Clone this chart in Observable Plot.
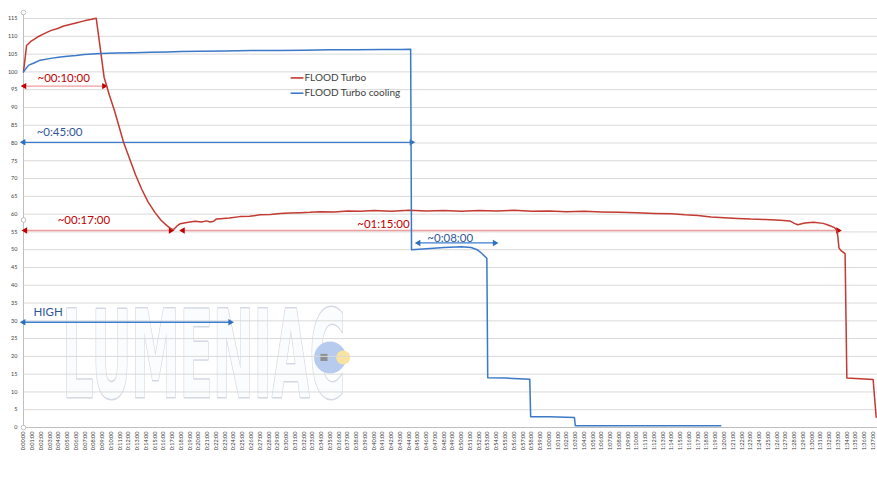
<!DOCTYPE html>
<html><head><meta charset="utf-8">
<script src="https://cdn.jsdelivr.net/npm/d3@7"></script>
<script src="https://cdn.jsdelivr.net/npm/@observablehq/plot@0.6"></script>
<style>body{margin:0;background:#fff;} svg{display:block}</style>
</head><body><div id="chart"></div>
<script>
// ---- data (minutes, value) ----
const redT = [0,0.35,0.8,1.6,2.3,3.1,3.9,4.6,5.3,6.1,6.7,7.2,7.8,8.3,8.8,9.2,9.8,10.4,11.45,12.2,12.8,13.5,14.2,15.0,15.7,16.4,16.95,17.2,17.5,17.9,18.5,19.0,19.6,20.3,20.9,21.3,21.7,22.0,22.5,23.5,24.7,25.8,27.0,28.2,29.3,30.4,31.6,32.7,33.9,35.5,37,38.5,40,42,44,46,48,50,52,54,56,58,60,62,64,66,68,70,72,74,75.5,77,78.5,80,81.5,83,84.7,86.4,87.5,88.0,88.4,89.2,90.2,91.3,92.0,92.6,92.9,93.1,93.3,93.8,94.0,97.0,97.35];
const redV = [100,107.4,108.5,109.8,110.7,111.6,112.2,112.9,113.3,113.8,114.2,114.5,114.8,115.1,106,98.5,93.5,89,80,75,71,67,63.5,60.5,58.3,56.7,55.7,55.8,56.6,57.3,57.6,57.8,58.0,57.8,58.1,57.8,58.0,58.6,58.7,58.9,59.3,59.4,59.8,59.9,60.2,60.3,60.4,60.5,60.7,60.6,60.9,60.8,61.0,60.8,61.1,60.9,61.0,60.8,61.0,60.9,61.1,60.8,60.9,60.7,60.8,60.6,60.5,60.4,60.2,60.1,59.8,59.6,59.2,59.0,58.8,58.6,58.5,58.3,58.1,57.4,57.0,57.5,57.7,57.4,56.8,56.2,55.4,50.5,49.8,48.9,13.9,13.5,2.9];
const blueT = [0,0.3,0.6,1.2,1.9,3.1,4,5.0,6,6.9,8.8,10.5,12.6,14.5,16.4,18,20.2,23,26,29,32,35,38,41,43,44.2,44.3,46,48,50,51.1,51.8,52.3,52.9,53.0,55,57.8,57.9,60,62.9,63.0,79.6];
const blueV = [100,101.0,101.9,102.5,103.3,103.8,104.1,104.4,104.6,104.9,105.2,105.3,105.4,105.5,105.6,105.7,105.8,105.9,106.0,106.0,106.1,106.2,106.2,106.3,106.3,106.4,50.0,50.3,50.6,50.8,50.6,50.0,49.0,47.6,14.0,13.9,13.6,3.0,3.0,2.8,0.5,0.5];

const seriesNames = ["FLOOD Turbo", "FLOOD Turbo cooling"];
const seriesColors = ["#c23a32", "#3b78c8"];

const yTicks = d3.range(0, 116, 5);
const xTicks = d3.range(0, 98, 1);
const xTickLabels = xTicks.map(m => `${Math.floor(m / 60)}:${String(m % 60).padStart(2, "0")}:00`);

// annotations: duration arrows
const arrowT1 = [0.1, 0, 0.2, 18.2, 45.1, 0];
const arrowT2 = [9.2, 44.3, 16.8, 93.0, 53.8, 23.6];
const arrowV  = [96, 80.2, 55.4, 55.4, 51.9, 29.6];
const arrowKind = ["red", "blue", "red", "red", "blue", "blue"];
// annotation labels
const labelText = ["~00:10:00", "~0:45:00", "~00:17:00", "~01:15:00", "~0:08:00", "HIGH"];
const labelT = [1.6, 1.5, 3.9, 38.1, 46.1, 1.15];
const labelV = [98.2, 83, 58.2, 57.2, 53.3, 32.4];
const labelColor = ["#c00000", "#2f5597", "#c00000", "#c00000", "#2f5597", "#2f5597"];
// legend
const legendT = [30.5, 31.96];
const legendV = [98.3, 94.0];

const red = redT.map((t, i) => ({t, v: redV[i]}));
const blue = blueT.map((t, i) => ({t, v: blueV[i]}));
const arrows = arrowT1.map((t1, i) => ({t1, t2: arrowT2[i], v: arrowV[i], kind: arrowKind[i]}));
const heads = arrows.flatMap(a => [{t: a.t1, v: a.v, rot: -90, kind: a.kind}, {t: a.t2, v: a.v, rot: 90, kind: a.kind}]);
const labels = labelText.map((s, i) => ({s, t: labelT[i], v: labelV[i], c: labelColor[i]}));
const legend = seriesNames.map((n, i) => ({n, c: seriesColors[i], v: legendV[i]}));
const lineCol = k => k === "red" ? "#ef9e9e" : "#3b7dd0";
const headCol = k => k === "red" ? "#c00000" : "#2e6fc0";

const YMAX = 116.7;
const chart = Plot.plot({
  width: 877, height: 493,
  marginLeft: 23, marginRight: 0, marginTop: 12, marginBottom: 66,
  x: {domain: [0, 97.5]},
  y: {domain: [0, YMAX]},
  style: {fontFamily: "Lato, 'Open Sans', sans-serif", background: "white"},
  marks: [
    // watermark
    Plot.text(["LUMENIAC"], {x: [20.6], y: [19.4], text: d => d, fontSize: 121, fontWeight: "bold",
      fontFamily: "'DejaVu Sans', sans-serif",
      fill: "#fbfcfd", stroke: "#d3d8e2", strokeWidth: 3, textAnchor: "middle", lineAnchor: "middle"}),
    Plot.dot([0], {x: [35.0], y: [19.7], r: 16, fill: "#b7cbee", stroke: "none"}),
    Plot.dot([0], {x: [36.5], y: [19.7], r: 7, fill: "#f8e3a0", stroke: "none"}),
    Plot.dot([0], {x: [34.3], y: [19.7], r: 4, symbol: "square", fill: "#8d8f93", stroke: "none"}),
    Plot.gridY(yTicks, {stroke: "#d9d9d9", strokeOpacity: 1}),
    Plot.ruleX([0], {y1: 0, y2: YMAX, stroke: "#bfbfbf"}),
    Plot.ruleY([0], {stroke: "#bfbfbf"}),
    Plot.axisY(yTicks, {tickSize: 0, tickPadding: 6, fontSize: 5.5, fill: "#404040", label: null}),
    Plot.axisX(xTicks, {tickSize: 0, tickRotate: -90, tickPadding: 4, fontSize: 5.5, fill: "#404040", label: null,
      tickFormat: m => xTickLabels[m]}),
    // duration arrows
    Plot.link(arrows, {x1: "t1", x2: "t2", y1: "v", y2: "v", stroke: d => lineCol(d.kind), strokeWidth: 1.3}),
    Plot.dot(heads, {x: "t", y: "v", symbol: "triangle", r: 2.4, rotate: "rot", fill: d => headCol(d.kind), stroke: "none"}),
    // series
    Plot.line(red, {x: "t", y: "v", stroke: seriesColors[0], strokeWidth: 1.5}),
    Plot.line(blue, {x: "t", y: "v", stroke: seriesColors[1], strokeWidth: 1.5}),
    // labels
    Plot.text(labels, {x: "t", y: "v", text: "s", fill: "c", fontSize: 11.5, textAnchor: "start"}),
    // legend
    Plot.link(legend, {x1: legendT[0], x2: legendT[1], y1: "v", y2: "v", stroke: "c", strokeWidth: 1.6}),
    Plot.text(legend, {x: legendT[1], y: "v", text: "n", fill: "#404040", fontSize: 10, textAnchor: "start", dx: 1}),
    // chart handles
    Plot.dot([0, 1, 2], {x: [0, 0, 0], y: [YMAX, YMAX / 2, 0], r: 2.3, fill: "white", stroke: "#b0b0b0", strokeWidth: 0.8})
  ]
});
document.getElementById("chart").append(chart);
d3.select(chart).selectAll("text").filter(function() { return this.textContent === "LUMENIAC"; })
  .attr("textLength", 283).attr("lengthAdjust", "spacingAndGlyphs");
</script>
</body></html>
